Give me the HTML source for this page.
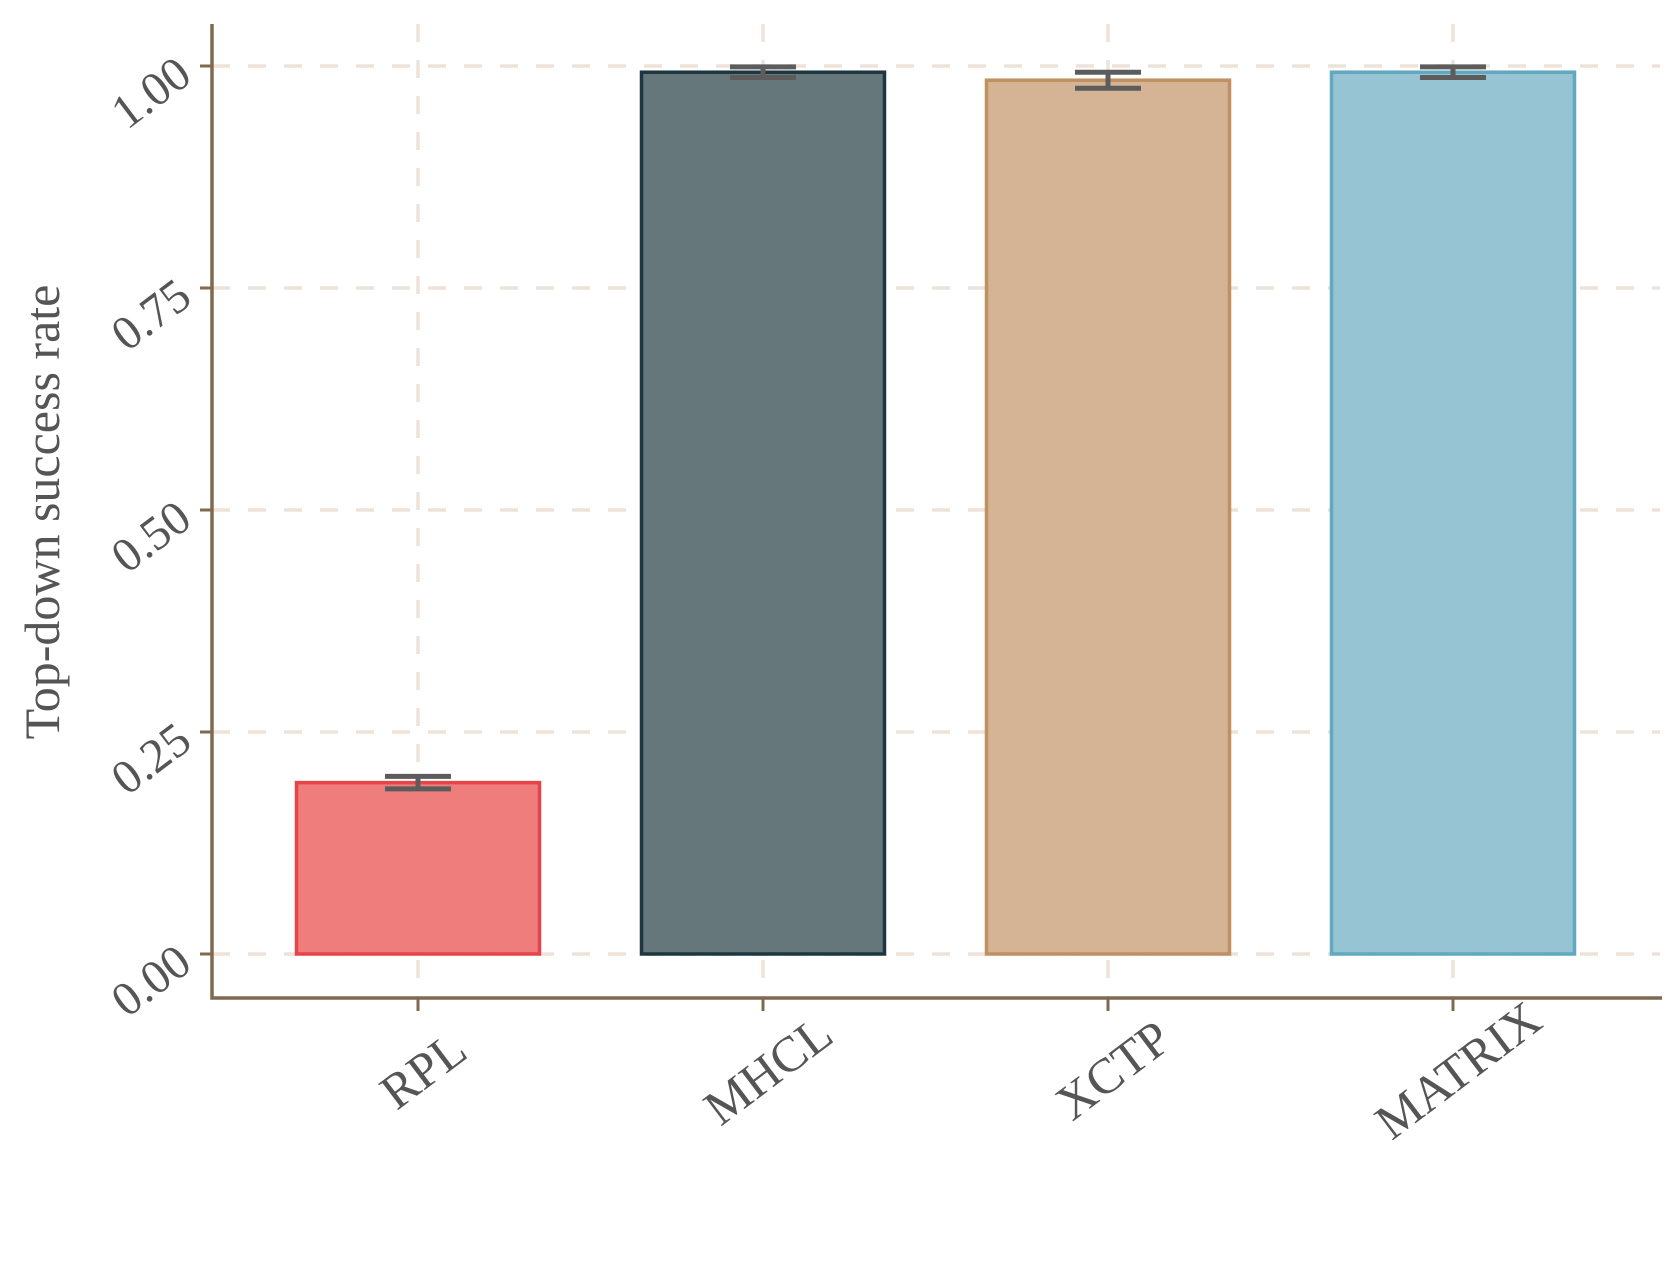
<!DOCTYPE html>
<html><head><meta charset="utf-8"><style>
body{margin:0;background:#fff}
svg text{font-family:"Liberation Serif",serif;fill:#555}
</style></head><body>
<svg width="1680" height="1259" viewBox="0 0 1680 1259">
<g id="grid"></g><g id="bars"></g><g id="axes"></g>
<text transform="translate(59,512) rotate(-90)" text-anchor="middle" font-size="50">Top-down success rate</text>
</svg>
<script>
const categories=["RPL","MHCL","XCTP","MATRIX"];
const values=[0.193,0.993,0.984,0.993];
const errors=[0.007,0.006,0.009,0.006];
const yTicks=[0,0.25,0.5,0.75,1.0];
const yTickLabels=["0.00","0.25","0.50","0.75","1.00"];
const fills=["#ee7d7c","#66777b","#d4b494","#96c4d2"];
const strokes=["#e5454a","#1e3640","#c09060","#62a8bf"];
const NS="http://www.w3.org/2000/svg";
const y=v=>954-v*888;
const x=i=>418+i*345;
const half=121.5;
function mk(t,a,p){const e=document.createElementNS(NS,t);for(const k in a)e.setAttribute(k,a[k]);document.querySelector(p).appendChild(e);return e;}
yTicks.forEach((t,i)=>{
 const g=mk('line',{x1:212,x2:1660,y1:y(t),y2:y(t),stroke:'#eee3d8','stroke-width':3.5,'stroke-dasharray':'18 18'},'#grid');
 
 
 const tk=mk('line',{x1:200,x2:212,y1:y(t),y2:y(t),stroke:'#7f6a50','stroke-width':3},'#axes');
 
 
 const tx=mk('text',{'text-anchor':'end','font-size':48,transform:`translate(194,${y(t)+14}) rotate(-37)`},'#axes');
 tx.textContent=yTickLabels[i];
 
 
});
categories.forEach((c,i)=>{
 const g=mk('line',{x1:x(i),x2:x(i),y1:24,y2:998,stroke:'#eee3d8','stroke-width':3.5,'stroke-dasharray':'18 18'},'#grid');
 
 
 const b=mk('rect',{x:x(i)-half,y:y(values[i]),width:2*half,height:y(0)-y(values[i]),fill:fills[i],stroke:strokes[i],'stroke-width':3.5},'#bars');
 
 
 const e1=y(values[i]+errors[i]),e2=y(values[i]-errors[i]);
 const eb=mk('path',{d:`M${x(i)-33},${e1}H${x(i)+33}M${x(i)},${e1}V${e2}M${x(i)-33},${e2}H${x(i)+33}`,stroke:'#5c5c5c','stroke-width':5,fill:'none'},'#bars');
 
 
 const tk=mk('line',{x1:x(i),x2:x(i),y1:998,y2:1011,stroke:'#7f6a50','stroke-width':3},'#axes');
 
 
 const tx=mk('text',{'text-anchor':'middle','font-size':50,transform:`translate(${x(i)+5},${1070}) rotate(-37) translate(0,17)`},'#axes');
 tx.textContent=c;
 
 
});
const ax=mk('path',{d:'M212,24V998H1662',stroke:'#7f6a50','stroke-width':3.5,fill:'none'},'#axes');


</script>
</body></html>
